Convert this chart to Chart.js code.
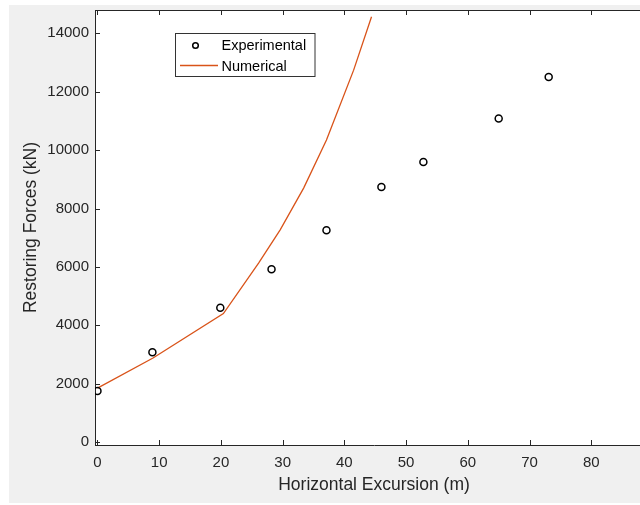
<!DOCTYPE html>
<html>
<head>
<meta charset="utf-8">
<script src="https://cdn.jsdelivr.net/npm/chart.js@4.4.1/dist/chart.umd.min.js"></script>
<style>
  html, body { margin: 0; padding: 0; width: 640px; height: 505px; overflow: hidden; background: #fff; }
  #bg { position: absolute; left: 9px; top: 5px; width: 640px; height: 498px; background: #f0f0f0; }
  #plot { position: absolute; left: 0; top: 0; }
</style>
</head>
<body>
<div id="bg"></div>
<canvas id="plot" width="660" height="505"></canvas>
<script>
// data
const expX = [0, 8.9, 19.9, 28.2, 37.1, 46.0, 52.8, 65.0, 73.1];
const expY = [1750, 3075, 4600, 5920, 7255, 8740, 9595, 11085, 12505];

const numX = [0, 9, 20.4, 26.1, 29.6, 33.4, 37.1, 41.5, 44.4];
const numY = [1850, 2880, 4400, 6130, 7270, 8700, 10350, 12740, 14570];

const xTicks = [0, 10, 20, 30, 40, 50, 60, 70, 80];
const yTicks = [0, 2000, 4000, 6000, 8000, 10000, 12000, 14000];

const FONT = "'Liberation Sans', Arial, Helvetica, sans-serif";
const AXIS = '#262626';
const ORANGE = '#D95319';

const toPoints = (xs, ys) => xs.map((x, i) => ({ x, y: ys[i] }));

// white plot area + box, inward ticks, legend
const matlabAxes = {
  id: 'matlabAxes',
  beforeDraw(chart) {
    const { ctx, chartArea: a } = chart;
    ctx.save();
    ctx.fillStyle = '#fff';
    ctx.fillRect(a.left, a.top, a.right - a.left, a.bottom - a.top);
    ctx.restore();
  },
  afterDraw(chart) {
    const { ctx, chartArea: a, scales } = chart;
    ctx.save();
    ctx.strokeStyle = AXIS;
    ctx.lineWidth = 1;
    ctx.beginPath();
    ctx.moveTo(a.left, a.top + 0.5);
    ctx.lineTo(a.right, a.top + 0.5);
    xTicks.forEach(v => {
      const px = Math.round(scales.x.getPixelForValue(v)) + 0.5;
      ctx.moveTo(px, a.bottom);
      ctx.lineTo(px, a.bottom - 5);
      ctx.moveTo(px, a.top);
      ctx.lineTo(px, a.top + 5);
    });
    yTicks.forEach(v => {
      const py = Math.round(scales.y.getPixelForValue(v)) + 0.5;
      ctx.moveTo(a.left, py);
      ctx.lineTo(a.left + 5, py);
    });
    ctx.stroke();

    // legend
    const sets = chart.data.datasets;
    ctx.fillStyle = '#fff';
    ctx.fillRect(175.5, 33.5, 139.5, 43);
    ctx.strokeStyle = '#333';
    ctx.strokeRect(175.5, 33.5, 139.5, 43);
    ctx.font = '14.5px ' + FONT;
    ctx.textBaseline = 'middle';
    ctx.fillStyle = '#000';
    ctx.fillText(sets[0].label, 221.5, 46);
    ctx.fillText(sets[1].label, 221.5, 67);
    ctx.beginPath();
    ctx.lineWidth = 1.5;
    ctx.strokeStyle = '#000';
    ctx.arc(195.5, 45.5, 2.8, 0, Math.PI * 2);
    ctx.stroke();
    ctx.beginPath();
    ctx.lineWidth = 1.3;
    ctx.strokeStyle = ORANGE;
    ctx.moveTo(180, 65.5);
    ctx.lineTo(218, 65.5);
    ctx.stroke();
    ctx.restore();
  }
};

new Chart(document.getElementById('plot'), {
  type: 'scatter',
  data: {
    datasets: [
      {
        label: 'Experimental',
        data: toPoints(expX, expY),
        showLine: false,
        pointStyle: 'circle',
        pointRadius: 3.5,
        pointBorderWidth: 1.5,
        pointBorderColor: '#000',
        pointBackgroundColor: 'rgba(0,0,0,0)',
        order: 0
      },
      {
        label: 'Numerical',
        data: toPoints(numX, numY),
        showLine: true,
        borderColor: ORANGE,
        borderWidth: 1.3,
        pointRadius: 0,
        tension: 0,
        order: 1
      }
    ]
  },
  options: {
    responsive: false,
    devicePixelRatio: 1,
    animation: false,
    layout: { padding: { left: 0, right: 7, top: 10, bottom: 0 } },
    plugins: { legend: { display: false }, tooltip: { enabled: false } },
    scales: {
      x: {
        type: 'linear',
        min: -0.4,
        max: 90,
        afterBuildTicks: s => { s.ticks = xTicks.map(v => ({ value: v })); },
        afterFit: s => { s.height = 60; s.paddingLeft = 0; s.paddingRight = 0; },
        grid: { display: false, drawTicks: false },
        border: { display: true, color: AXIS, width: 1 },
        ticks: { color: AXIS, padding: 9, font: { family: FONT, size: 15 }, callback: v => String(v) },
        title: {
          display: true,
          text: 'Horizontal Excursion (m)',
          color: AXIS,
          font: { family: FONT, size: 17.5 },
          padding: { top: 0, bottom: 9 }
        }
      },
      y: {
        type: 'linear',
        min: -100,
        max: 14800,
        afterBuildTicks: s => { s.ticks = yTicks.map(v => ({ value: v })); },
        afterFit: s => { s.width = 95; s.paddingTop = 0; s.paddingBottom = 0; },
        grid: { display: false, drawTicks: false },
        border: { display: true, color: AXIS, width: 1 },
        ticks: { color: AXIS, padding: 6, font: { family: FONT, size: 15 }, callback: v => String(v) },
        title: {
          display: true,
          text: 'Restoring Forces (kN)',
          color: AXIS,
          font: { family: FONT, size: 17.5 },
          padding: { top: 21, bottom: 0 }
        }
      }
    }
  },
  plugins: [matlabAxes]
});
</script>
</body>
</html>
